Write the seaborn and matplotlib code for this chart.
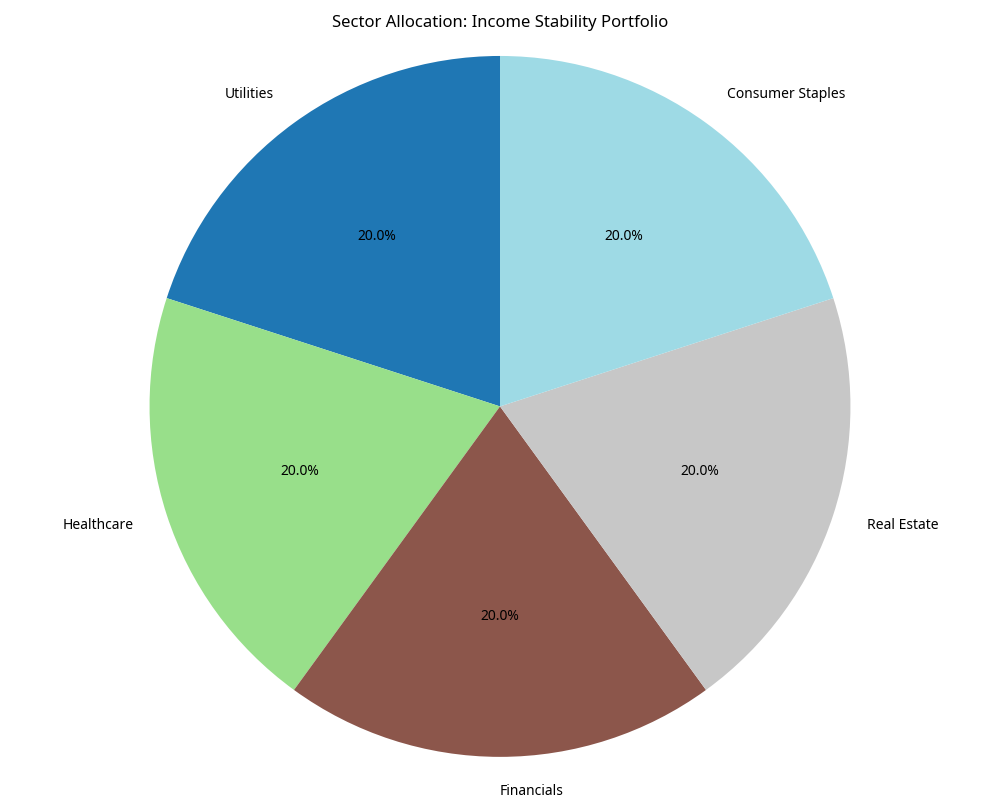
import matplotlib
matplotlib.use("Agg")
import matplotlib.pyplot as plt
import seaborn as sns
import numpy as np

sectors = ["Utilities", "Healthcare", "Financials", "Real Estate", "Consumer Staples"]
weights = [20, 20, 20, 20, 20]

sns.set_style("white")
plt.rcParams['font.family'] = ['Noto Sans', 'DejaVu Sans']
plt.rcParams['text.color'] = 'black'

colors = plt.cm.tab20(np.linspace(0, 1, len(sectors)))

fig, ax = plt.subplots(figsize=(10, 8), dpi=100)
ax.pie(weights, labels=sectors, colors=colors, autopct='%1.1f%%', startangle=90,
       wedgeprops={'linewidth': 0, 'edgecolor': 'none'})
ax.set_title("Sector Allocation: Income Stability Portfolio", fontsize=12, color='black')
ax.axis('equal')
plt.tight_layout()
plt.savefig("out.png")
